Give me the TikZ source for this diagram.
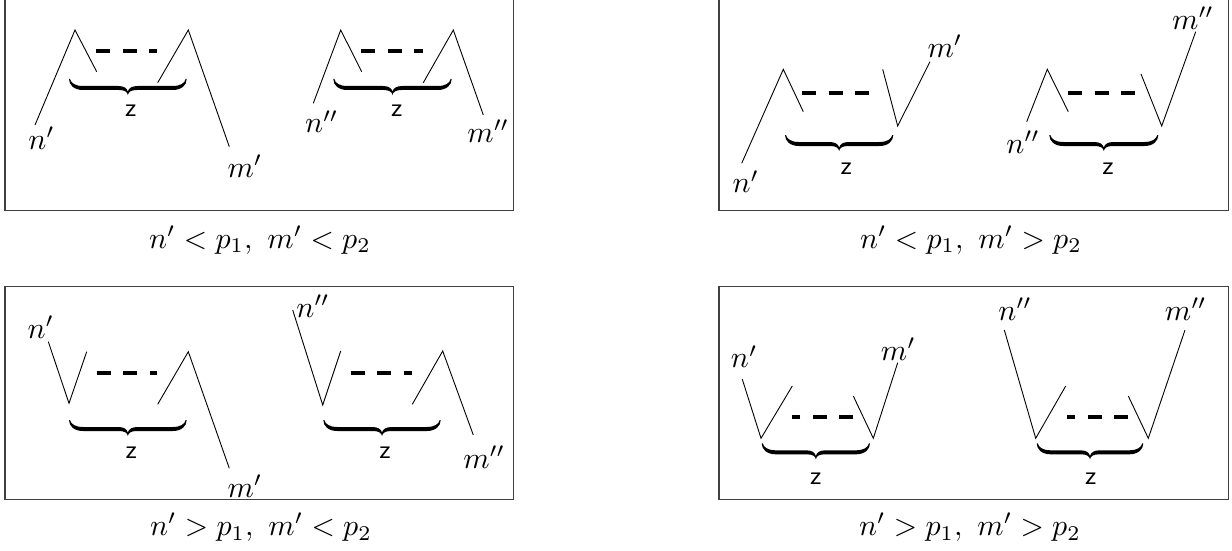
\documentclass[tikz,border=0pt]{standalone}
\usepackage{tikz}
\tikzset{
  leg/.style={line width=0.9pt, line join=miter},
  dsh/.style={line width=4pt, dash pattern=on 14pt off 12.5pt},
  frame/.style={draw=black!75, line width=1.3pt},
  lab/.style={yshift=2.5pt, scale=3, inner sep=0pt},
  zl/.style={scale=2.6, inner sep=0pt, font=\sffamily},
  captxt/.style={scale=3, inner sep=0pt, anchor=base},
  bracefill/.style={fill=black}
}
\newcommand\zbrace[3]{%
  \pgfmathsetmacro\bxa{#1}\pgfmathsetmacro\bxb{#2}%
  \pgfmathsetmacro\bxm{(#1+#2)/2}\pgfmathsetmacro\byo{#3}%
  \fill[bracefill] (\bxa,\byo) .. controls (\bxa,\byo+6) and (\bxa+5,\byo+11) .. (\bxa+14,\byo+11)
   -- (\bxm-9,\byo+11) .. controls (\bxm-3,\byo+11) and (\bxm-0.5,\byo+13) .. (\bxm,\byo+16)
   .. controls (\bxm+0.5,\byo+13) and (\bxm+3,\byo+11) .. (\bxm+9,\byo+11)
   -- (\bxb-14,\byo+11) .. controls (\bxb-5,\byo+11) and (\bxb,\byo+6) .. (\bxb,\byo)
   -- (\bxb-1,\byo) .. controls (\bxb-2,\byo+4) and (\bxb-6,\byo+7) .. (\bxb-14,\byo+7)
   -- (\bxm+10,\byo+7) .. controls (\bxm+4,\byo+7) and (\bxm+1,\byo+9) .. (\bxm,\byo+12.5)
   .. controls (\bxm-1,\byo+9) and (\bxm-4,\byo+7) .. (\bxm-10,\byo+7)
   -- (\bxa+14,\byo+7) .. controls (\bxa+6,\byo+7) and (\bxa+2,\byo+4) .. (\bxa+1,\byo) -- cycle;%
}
\begin{document}
\begin{tikzpicture}[x=1pt, y=-1pt]
\useasboundingbox (0,0) rectangle (1232,551);
\clip (0,0) rectangle (1232,551);

% ---------- frames ----------
\draw[frame] (5,-3) rectangle (513.3,210.7);
\draw[frame] (719,-3) rectangle (1228.3,210.7);
\draw[frame] (5,286.7) rectangle (513.3,499.3);
\draw[frame] (719,286.7) rectangle (1228.3,499.3);

% ---------- panel 1 ----------
\draw[leg] (35,125) -- (75,30) -- (96.7,71.7);
\draw[leg] (157.7,82.7) -- (188.3,30) -- (229.3,146.7);
\draw[dsh] (96,51) -- (156.7,51);
\zbrace{69}{186.7}{79}
\draw[leg] (313.3,103.3) -- (340.7,30) -- (361.7,71.7);
\draw[leg] (423.3,82.7) -- (453.3,30) -- (483.3,115);
\draw[dsh] (361,51) -- (422.7,51);
\zbrace{333.3}{451.7}{79}
\node[lab] (a1) at (41.7,140.8) {$n'$};
\node[lab] (a2) at (245,168.3) {$m'$};
\node[lab] (a3) at (321.7,124.2) {$n''$};
\node[lab] (a4) at (488.3,133.3) {$m''$};
\node[zl] (az1) at (130.8,110.5) {z};
\node[zl] (az2) at (396.7,110.5) {z};
\node[captxt] (ac) at (260,248) {$n' < p_1,\ m' < p_2$};

% ---------- panel 2 ----------
\draw[leg] (741.7,163.3) -- (783.3,69.3) -- (803.3,111.7);
\draw[leg] (882.7,69.3) -- (897.7,126) -- (930,61.7);
\draw[dsh] (802.3,92.7) -- (870,92.7);
\zbrace{785}{893.3}{135}
\draw[leg] (1026.7,121.7) -- (1047.3,69.3) -- (1068.3,111.7);
\draw[leg] (1141,74) -- (1161.7,126) -- (1195.7,31.7);
\draw[dsh] (1068.3,92.7) -- (1136.7,92.7);
\zbrace{1049.3}{1158.3}{135}
\node[lab] (b1) at (745.8,184.2) {$n'$};
\node[lab] (b2) at (945,48.3) {$m'$};
\node[lab] (b3) at (1023,145) {$n''$};
\node[lab] (b4) at (1193,20.3) {$m''$};
\node[zl] (bz1) at (846.3,168.3) {z};
\node[zl] (bz2) at (1108,168.3) {z};
\node[captxt] (bc) at (971,248) {$n' < p_1,\ m' > p_2$};

% ---------- panel 3 ----------
\draw[leg] (48.3,341.7) -- (69,403.3) -- (86.7,351.7);
\draw[leg] (157.7,404.3) -- (188.3,351.7) -- (229.3,468.3);
\draw[dsh] (96.7,372.7) -- (156.7,372.7);
\zbrace{69}{186.7}{420}
\draw[leg] (292.7,310) -- (322.7,405) -- (340.7,351);
\draw[leg] (412.3,404.3) -- (442.7,351) -- (473.3,435);
\draw[dsh] (350.7,372.7) -- (411.7,372.7);
\zbrace{323.3}{440.7}{420}
\node[lab] (c1) at (40.8,330) {$n'$};
\node[lab] (c2) at (245,488.3) {$m'$};
\node[lab] (c3) at (313,309) {$n''$};
\node[lab] (c4) at (484.2,460) {$m''$};
\node[zl] (cz1) at (131.3,452.5) {z};
\node[zl] (cz2) at (385,452.5) {z};
\node[captxt] (cc) at (261,535.5) {$n' > p_1,\ m' < p_2$};

% ---------- panel 4 ----------
\draw[leg] (742.3,379.3) -- (761,438.3) -- (792.3,386);
\draw[leg] (853.3,396) -- (873.3,438.3) -- (897.7,362.7);
\draw[dsh] (853.3,416.7) -- (792.3,416.7);
\zbrace{761.7}{870}{443.3}
\draw[leg] (1004.3,330) -- (1035.7,438.3) -- (1065.7,386);
\draw[leg] (1128.3,396) -- (1148.3,438.3) -- (1185,330);
\draw[dsh] (1128.3,416.7) -- (1066.7,416.7);
\zbrace{1036.7}{1143.3}{443.3}
\node[lab] (d1) at (744.2,359.2) {$n'$};
\node[lab] (d2) at (898.3,351.7) {$m'$};
\node[lab] (d3) at (1015,311.7) {$n''$};
\node[lab] (d4) at (1185.8,311.7) {$m''$};
\node[zl] (dz1) at (815.8,479) {z};
\node[zl] (dz2) at (1090.8,479) {z};
\node[captxt] (dc) at (970,535.5) {$n' > p_1,\ m' > p_2$};
\end{tikzpicture}
\end{document}
